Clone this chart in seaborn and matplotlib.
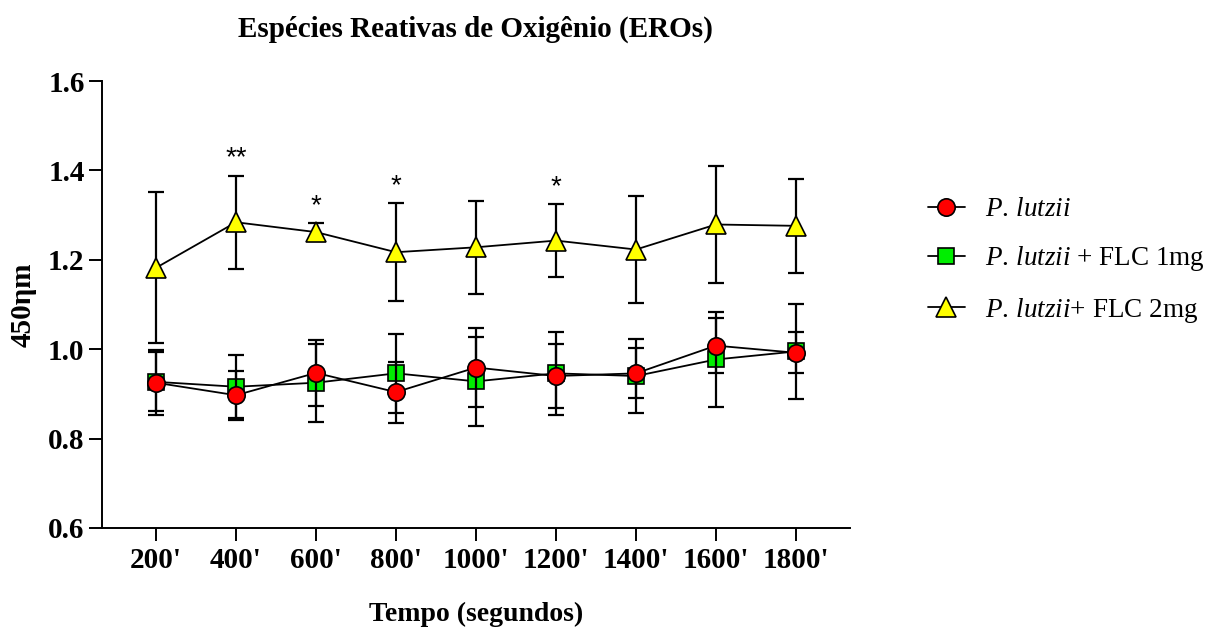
import matplotlib
matplotlib.use("Agg")
import matplotlib.pyplot as plt
from matplotlib.lines import Line2D
import numpy as np
import pandas as pd
import seaborn as sns

# Time points (seconds) and group means / SD of absorbance at 450 nm
tempos = ["200'", "400'", "600'", "800'", "1000'", "1200'", "1400'", "1600'", "1800'"]

lutzii_mean = [0.925, 0.897, 0.947, 0.904, 0.959, 0.940, 0.946, 1.008, 0.992]
lutzii_sd = [0.073, 0.055, 0.074, 0.068, 0.088, 0.072, 0.056, 0.061, 0.046]

flc1_mean = [0.927, 0.916, 0.925, 0.946, 0.928, 0.946, 0.940, 0.977, 0.995]
flc1_sd = [0.066, 0.071, 0.087, 0.088, 0.100, 0.093, 0.082, 0.107, 0.106]

flc2_mean = [1.182, 1.284, 1.262, 1.217, 1.228, 1.243, 1.223, 1.279, 1.276]
flc2_sd = [0.169, 0.104, 0.020, 0.110, 0.104, 0.081, 0.120, 0.130, 0.105]

# Significance marks for the FLC 2mg group
sig_marks = {"400'": "**", "600'": "*", "800'": "*", "1200'": "*"}

sns.set_theme(style="ticks")
plt.rcParams["font.family"] = ["Liberation Serif", "DejaVu Serif"]
plt.rcParams["mathtext.fontset"] = "custom"
plt.rcParams["mathtext.rm"] = "Liberation Serif"
plt.rcParams["mathtext.it"] = "Liberation Serif:italic"
plt.rcParams["mathtext.bf"] = "Liberation Serif:bold"
for key in ("text.color", "axes.labelcolor", "xtick.color", "ytick.color",
            "axes.edgecolor"):
    plt.rcParams[key] = "black"

fig = plt.figure(figsize=(12.21, 6.27), dpi=100)
ax = fig.add_axes([0.0835, 0.1579, 0.6126, 0.7129])

pos = np.arange(len(tempos))
series = [
    ("flc2", flc2_mean, flc2_sd, "^", "#FFFF00", 14.0),
    ("flc1", flc1_mean, flc1_sd, "s", "#00EE00", 12.0),
    ("lutzii", lutzii_mean, lutzii_sd, "o", "#FF0000", 12.5),
]

for i, (name, mean, sd, mk, fc, ms) in enumerate(series):
    df = pd.DataFrame({"x": pos, "y": mean})
    ax.errorbar(pos, mean, yerr=sd, fmt="none", ecolor="black",
                elinewidth=1.6, capsize=6, capthick=1.6, zorder=2 + i * 2)
    sns.lineplot(data=df, x="x", y="y", ax=ax, color="black", linewidth=1.3,
                 marker=mk, markersize=ms, markerfacecolor=fc,
                 markeredgecolor="black", markeredgewidth=1.2,
                 zorder=3 + i * 2, legend=False)

# asterisks above the FLC 2mg error bars
for lab, mark in sig_marks.items():
    k = tempos.index(lab)
    ax.annotate(mark, (pos[k], flc2_mean[k] + flc2_sd[k]), xytext=(0, 3),
                textcoords="offset points", ha="center", va="bottom",
                fontsize=20, family=["Liberation Sans", "DejaVu Sans"])

ax.set_xlim(-0.675, 8.675)
ax.set_ylim(0.6, 1.6)
ax.set_xticks(pos)
ax.set_xticklabels(tempos)
ax.set_yticks([0.6, 0.8, 1.0, 1.2, 1.4, 1.6])
ax.set_yticklabels(["0.6", "0.8", "1.0", "1.2", "1.4", "1.6"])
for t in ax.get_xticklabels() + ax.get_yticklabels():
    t.set_fontweight("bold")
    t.set_fontsize(21)
ax.tick_params(axis="both", direction="out", length=9.5, width=1.4, color="black")
ax.tick_params(axis="x", pad=4)
ax.tick_params(axis="y", pad=3)
sns.despine(ax=ax)
for s in ("left", "bottom"):
    ax.spines[s].set_linewidth(1.4)
    ax.spines[s].set_color("black")

ax.set_xlabel("Tempo (segundos)", fontsize=20, fontweight="bold", labelpad=20)
ax.set_ylabel("450ηm", fontsize=21, fontweight="bold", labelpad=8)
fig.text(0.389, 0.954, "Espécies Reativas de Oxigênio (EROs)", ha="center",
         va="center", fontsize=21, fontweight="bold")

handles = [
    Line2D([], [], color="black", lw=1.3, marker="o", markersize=12.5,
           markerfacecolor="#FF0000", markeredgecolor="black", markeredgewidth=1.2),
    Line2D([], [], color="black", lw=1.3, marker="s", markersize=12,
           markerfacecolor="#00EE00", markeredgecolor="black", markeredgewidth=1.2),
    Line2D([], [], color="black", lw=1.3, marker="^", markersize=14,
           markerfacecolor="#FFFF00", markeredgecolor="black", markeredgewidth=1.2),
]
labels = [r"$\mathit{P.\,lutzii}$",
          r"$\mathit{P.\,lutzii}$ + FLC 1mg",
          r"$\mathit{P.\,lutzii}$+ FLC 2mg"]
fig.legend(handles, labels, loc="center left", bbox_to_anchor=(0.760, 0.584),
           frameon=False, fontsize=19.5, handlelength=1.35, handletextpad=0.75,
           labelspacing=0.82, borderpad=0, borderaxespad=0)

fig.savefig("out.png", dpi=100)
